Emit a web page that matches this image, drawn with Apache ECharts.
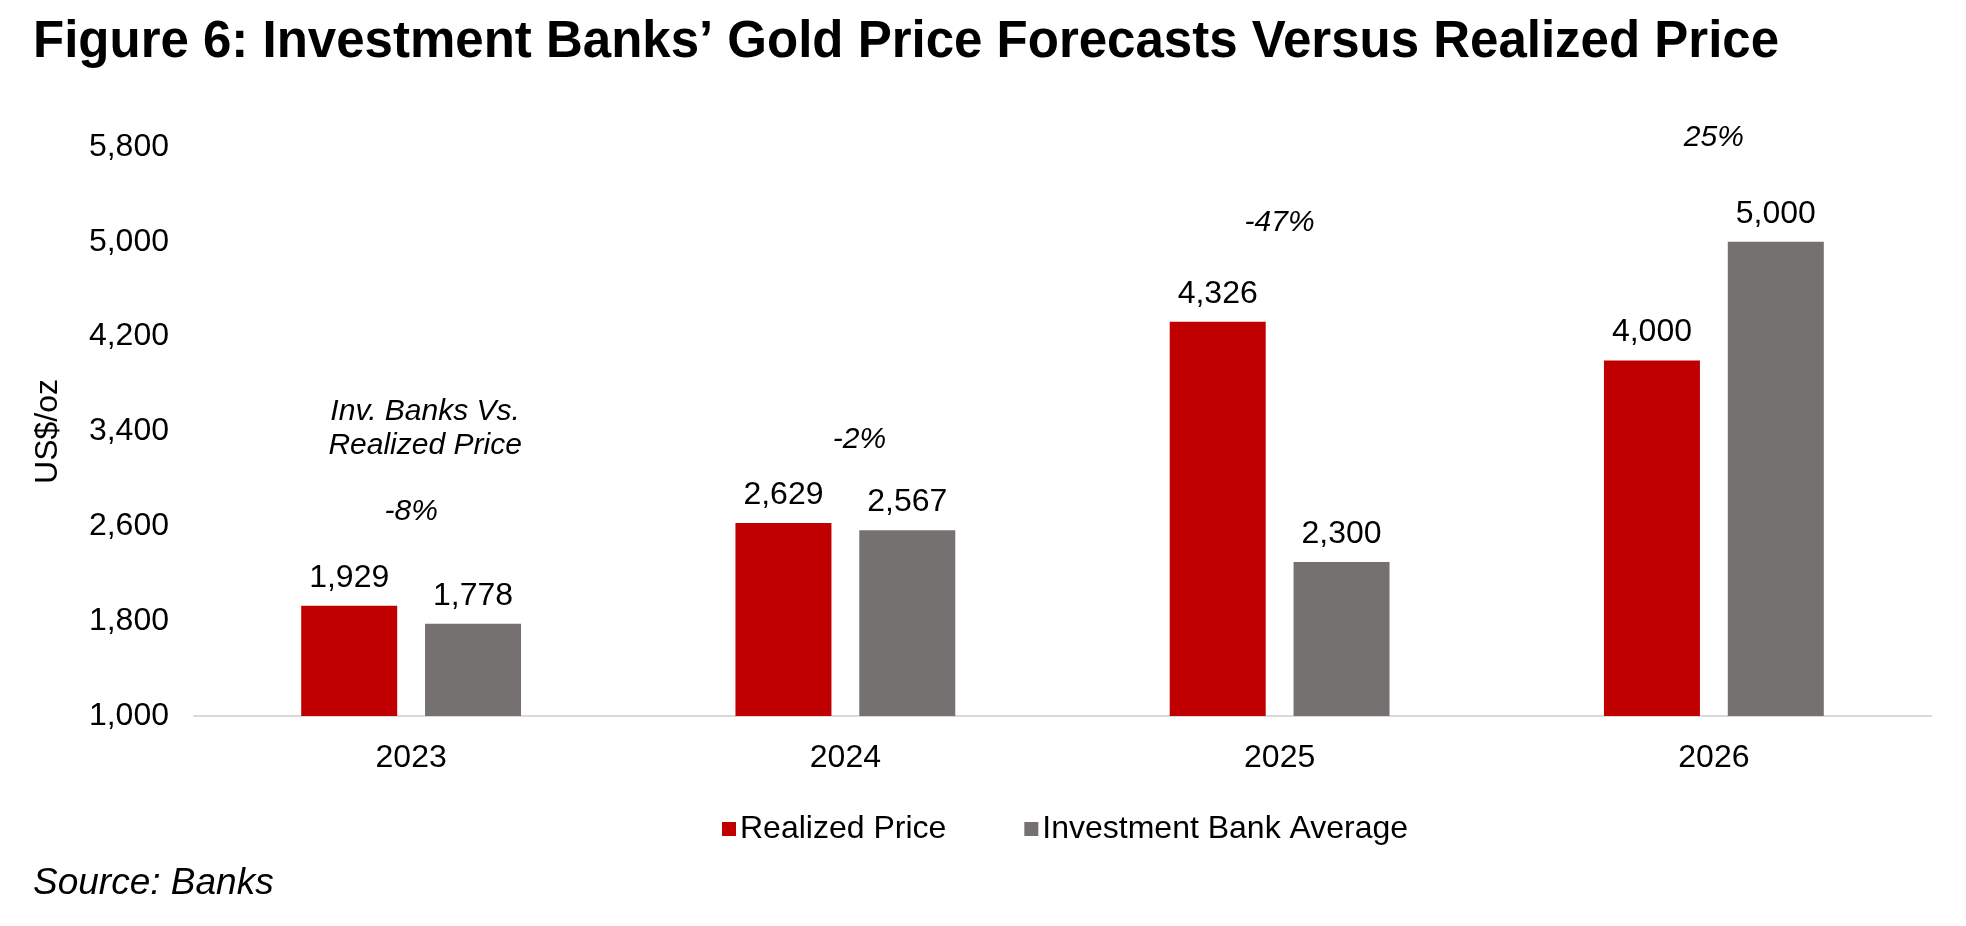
<!DOCTYPE html>
<html lang="en">
<head>
    <meta charset="UTF-8">
    <title>Gold price forecasts</title>
    <style>
        html, body { margin: 0; padding: 0; background: #fff; }
        #main { width: 1966px; height: 926px; }
    </style>
</head>
<body>
<div id="main"></div>
<script src="https://cdn.jsdelivr.net/npm/echarts@6/dist/echarts.min.js"></script>
<script>
    const chart = echarts.init(document.getElementById('main'));

    // data
    const years = ['2023', '2024', '2025', '2026'];
    const realized = [1929, 2629, 4326, 4000];
    const bankAvg = [1778, 2567, 2300, 5000];
    // % gap notes and the level where each one sits
    const gapText = ['-8%', '-2%', '-47%', '25%'];
    const gapLevel = [2721, 3329, 5160, 5878];
    const noteText = 'Inv. Banks Vs.\nRealized Price';
    const noteLevel = 3422;
    const yMin = 1000, yMax = 5800, yStep = 800;

    const FONT = 'Liberation Sans, Arial, Helvetica, sans-serif';
    const fmt = v => v.toLocaleString('en-US');

    const option = {
        backgroundColor: '#fff',
        textStyle: { fontFamily: FONT },
        title: [{
            text: 'Figure 6: Investment Banks\u2019 Gold Price Forecasts Versus Realized Price',
            left: 28, top: 12,
            textStyle: { fontFamily: FONT, fontSize: 51, fontWeight: 'bold', color: '#000' }
        }, {
            text: 'Source: Banks',
            left: 28, top: 860,
            textStyle: { fontFamily: FONT, fontSize: 37, fontStyle: 'italic', fontWeight: 'normal', color: '#000' }
        }],
        legend: {
            data: ['Realized Price', 'Investment Bank Average'],
            left: 717, top: 808,
            itemWidth: 14, itemHeight: 14, itemGap: 78,
            icon: 'rect',
            textStyle: { fontFamily: FONT, fontSize: 32, color: '#000', padding: [0, 0, 0, -1] }
        },
        grid: { left: 194, right: 35, top: 147, bottom: 210 },
        xAxis: {
            type: 'category',
            data: years,
            axisLine: { lineStyle: { color: '#d9d9d9', width: 2 } },
            axisTick: { show: false },
            axisLabel: { fontFamily: FONT, fontSize: 32, color: '#000', margin: 26 }
        },
        yAxis: {
            type: 'value',
            min: yMin, max: yMax, interval: yStep,
            name: 'US$/oz',
            nameLocation: 'middle',
            nameGap: 130,
            nameTextStyle: { fontFamily: FONT, fontSize: 32, color: '#000' },
            axisLine: { show: false },
            axisTick: { show: false },
            splitLine: { show: false },
            axisLabel: { fontFamily: FONT, fontSize: 32, color: '#000', margin: 25, formatter: fmt }
        },
        series: [{
            name: 'Realized Price',
            type: 'bar',
            data: realized,
            barWidth: 96,
            barGap: '29%',
            itemStyle: { color: '#C00000' },
            label: {
                show: true, position: 'top', distance: 12,
                fontFamily: FONT, fontSize: 32, color: '#000',
                formatter: p => fmt(p.value)
            }
        }, {
            name: 'Investment Bank Average',
            type: 'bar',
            data: bankAvg,
            barWidth: 96,
            itemStyle: { color: '#767171' },
            label: {
                show: true, position: 'top', distance: 12,
                fontFamily: FONT, fontSize: 32, color: '#000',
                formatter: p => fmt(p.value)
            }
        }, {
            name: 'gaps',
            type: 'scatter',
            silent: true,
            clip: false,
            symbolSize: 0,
            itemStyle: { opacity: 1 },
            data: years.map((y, i) => ({
                value: [y, gapLevel[i]],
                label: { offset: [i === 1 ? 14 : 0, 0] }
            })),
            label: {
                show: true, position: 'inside',
                fontFamily: FONT, fontSize: 30, fontStyle: 'italic', color: '#000',
                formatter: p => gapText[p.dataIndex]
            }
        }, {
            name: 'note',
            type: 'scatter',
            silent: true,
            clip: false,
            symbolSize: 0,
            itemStyle: { opacity: 1 },
            data: [[years[0], noteLevel]],
            label: {
                show: true, position: 'inside', offset: [14, 0],
                fontFamily: FONT, fontSize: 30, fontStyle: 'italic', color: '#000',
                lineHeight: 34, align: 'center',
                formatter: () => noteText
            }
        }]
    };

    chart.setOption(option);
</script>
</body>
</html>
